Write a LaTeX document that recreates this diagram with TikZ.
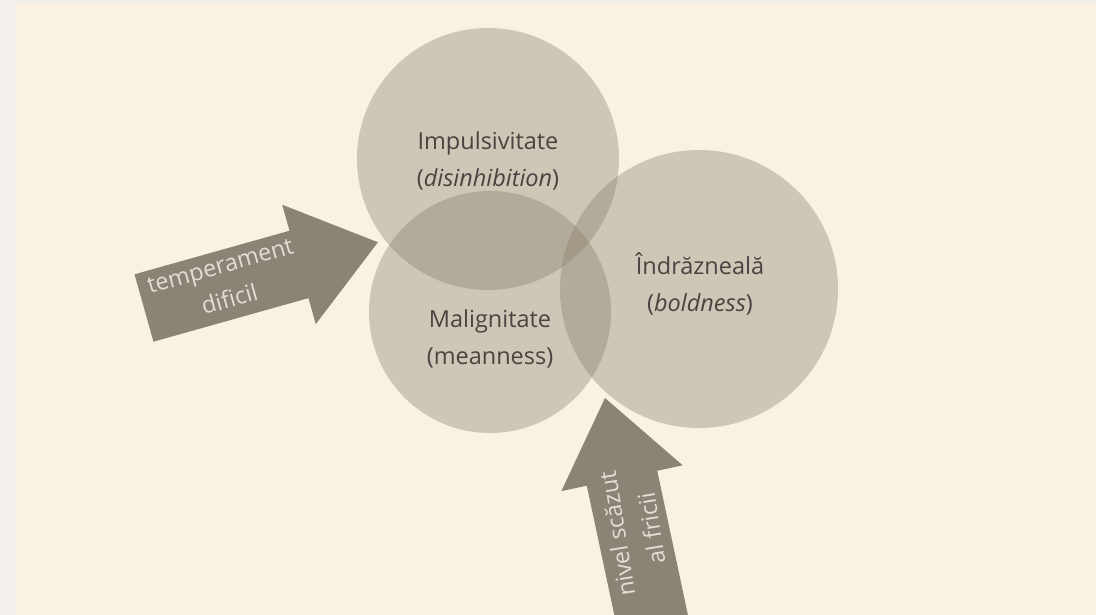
\documentclass[tikz,border=0pt]{standalone}
\usepackage{fontspec}
\setmainfont{Open Sans}
\usepackage{xcolor}
\usepackage{tikz}
\definecolor{pagegray}{RGB}{243,239,234}
\definecolor{mycream}{RGB}{249,241,227}
\definecolor{mytaupe}{RGB}{133,126,105}
\definecolor{myarrow}{RGB}{138,131,118}
\definecolor{myarrowtxt}{RGB}{228,222,210}
\definecolor{mytext}{RGB}{72,69,64}
\tikzset{
  ring/.style={fill=mytaupe, fill opacity=0.37},
  fatarrow/.style={fill=myarrow},
  lbl/.style={align=center, text=mytext, inner sep=0pt,
    font=\fontsize{16.7}{26.3}\selectfont},
  arrowtxt/.style={align=center, text=myarrowtxt, inner sep=0pt,
    font=\fontsize{16.7}{24.9}\selectfont}
}

\begin{document}
\begin{tikzpicture}[x=0.025cm, y=-0.025cm]
  \useasboundingbox (0,0) rectangle (1096,615);
  \clip (0,0) rectangle (1096,615);
  % page and background
  \fill[pagegray] (0,0) rectangle (1096,615);
  \fill[mycream] (16,3) rectangle (1096,615);
  % the three circles
  \fill[ring] (488,159) circle (131);
  \fill[ring] (490,312) circle (121);
  \fill[ring] (699,289) circle (139);
  \node[lbl] (imp) at (488,161) {Impulsivitate\\(\textit{disinhibition})};
  \node[lbl] (mal) at (490,339) {Malignitate\\(meanness)};
  \node[lbl] (ind) at (700,284) {Îndrăzneală\\(\textit{boldness})};
  % arrow from the left
  \begin{scope}[shift={(144,308)}, rotate=15.7]
    \fill[fatarrow] (0,-35) -- (161,-35) -- (161,-62) -- (243,0)
      -- (161,62) -- (161,35) -- (0,35) -- cycle;
  \end{scope}
  \node[arrowtxt, rotate=15.7] (temp) at (225,283) {temperament\\dificil};
  % arrow from below
  \begin{scope}[shift={(655.5,635.7)}, rotate=102]
    \fill[fatarrow] (0,-36) -- (161,-36) -- (161,-62) -- (243,0)
      -- (161,62) -- (161,36) -- (0,36) -- cycle;
  \end{scope}
  \node[arrowtxt, rotate=99] (frica) at (634,531) {nivel scăzut\\al fricii};
\end{tikzpicture}
\end{document}
